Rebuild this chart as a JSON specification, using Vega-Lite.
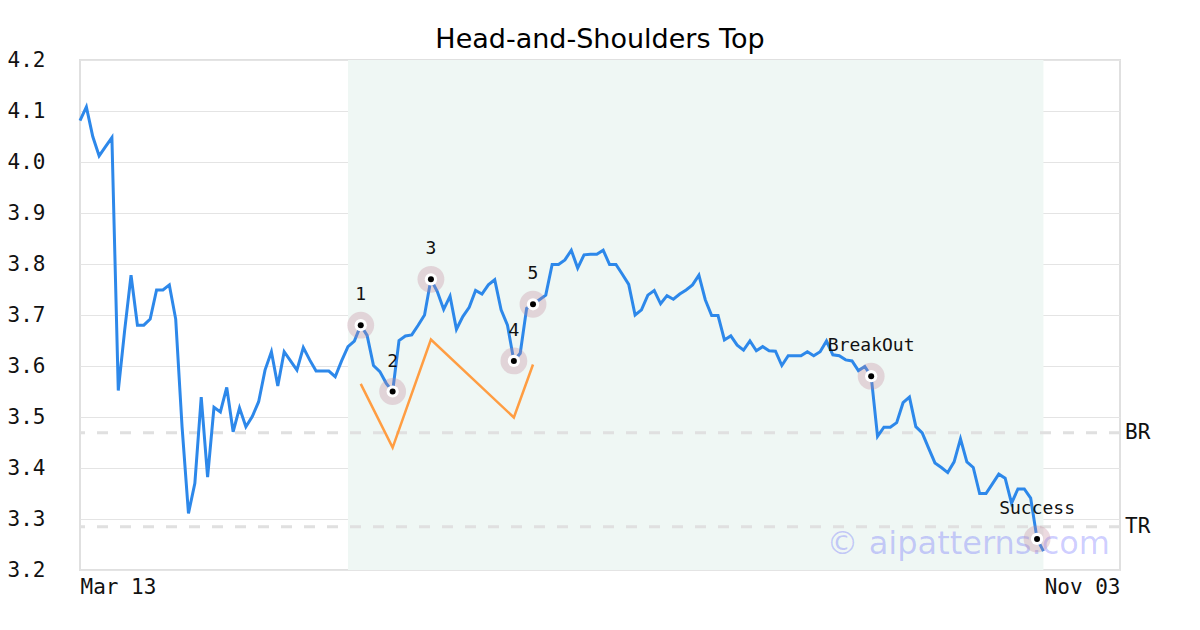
{
  "$schema": "https://vega.github.io/schema/vega-lite/v6.json",
  "width": 1040,
  "height": 510,
  "autosize": {"type": "none"},
  "padding": {"left": 80, "top": 60, "right": 80, "bottom": 60},
  "background": "white",
  "title": {"text": "Head-and-Shoulders Top", "font": "DejaVu Sans", "fontSize": 27, "fontWeight": "normal", "color": "#000000", "offset": -5},
  "config": {
    "view": {"stroke": "#e0e0e0", "strokeWidth": 2},
    "axis": {"domain": false, "ticks": false, "labelFont": "DejaVu Sans Mono", "labelFontSize": 21, "labelColor": "#111111", "gridColor": "#e4e4e4", "gridWidth": 1}
  },
  "datasets": {
    "price": [
      {"i":0,"v":4.081},{"i":1,"v":4.108},{"i":2,"v":4.050},{"i":3,"v":4.012},{"i":4,"v":4.030},{"i":5,"v":4.048},{"i":6,"v":3.552},{"i":7,"v":3.670},{"i":8,"v":3.778},{"i":9,"v":3.680},
      {"i":10,"v":3.680},{"i":11,"v":3.692},{"i":12,"v":3.749},{"i":13,"v":3.749},{"i":14,"v":3.759},{"i":15,"v":3.692},{"i":16,"v":3.480},{"i":17,"v":3.311},{"i":18,"v":3.370},{"i":19,"v":3.539},
      {"i":20,"v":3.382},{"i":21,"v":3.519},{"i":22,"v":3.510},{"i":23,"v":3.558},{"i":24,"v":3.471},{"i":25,"v":3.518},{"i":26,"v":3.481},{"i":27,"v":3.501},{"i":28,"v":3.530},{"i":29,"v":3.592},
      {"i":30,"v":3.628},{"i":31,"v":3.561},{"i":32,"v":3.628},{"i":33,"v":3.610},{"i":34,"v":3.592},{"i":35,"v":3.636},{"i":36,"v":3.612},{"i":37,"v":3.590},{"i":38,"v":3.590},{"i":39,"v":3.590},
      {"i":40,"v":3.579},{"i":41,"v":3.610},{"i":42,"v":3.638},{"i":43,"v":3.649},{"i":44,"v":3.680},{"i":45,"v":3.660},{"i":46,"v":3.601},{"i":47,"v":3.589},{"i":48,"v":3.566},{"i":49,"v":3.550},
      {"i":50,"v":3.650},{"i":51,"v":3.659},{"i":52,"v":3.661},{"i":53,"v":3.680},{"i":54,"v":3.700},{"i":55,"v":3.770},{"i":56,"v":3.746},{"i":57,"v":3.711},{"i":58,"v":3.737},{"i":59,"v":3.672},
      {"i":60,"v":3.697},{"i":61,"v":3.715},{"i":62,"v":3.748},{"i":63,"v":3.741},{"i":64,"v":3.759},{"i":65,"v":3.769},{"i":66,"v":3.710},{"i":67,"v":3.680},{"i":68,"v":3.610},{"i":69,"v":3.625},
      {"i":70,"v":3.713},{"i":71,"v":3.721},{"i":72,"v":3.730},{"i":73,"v":3.739},{"i":74,"v":3.799},{"i":75,"v":3.799},{"i":76,"v":3.808},{"i":77,"v":3.827},{"i":78,"v":3.792},{"i":79,"v":3.818},
      {"i":80,"v":3.819},{"i":81,"v":3.819},{"i":82,"v":3.827},{"i":83,"v":3.799},{"i":84,"v":3.799},{"i":85,"v":3.780},{"i":86,"v":3.760},{"i":87,"v":3.700},{"i":88,"v":3.710},{"i":89,"v":3.739},
      {"i":90,"v":3.748},{"i":91,"v":3.722},{"i":92,"v":3.738},{"i":93,"v":3.731},{"i":94,"v":3.741},{"i":95,"v":3.749},{"i":96,"v":3.759},{"i":97,"v":3.778},{"i":98,"v":3.730},{"i":99,"v":3.699},
      {"i":100,"v":3.699},{"i":101,"v":3.651},{"i":102,"v":3.659},{"i":103,"v":3.641},{"i":104,"v":3.631},{"i":105,"v":3.649},{"i":106,"v":3.630},{"i":107,"v":3.638},{"i":108,"v":3.630},{"i":109,"v":3.629},
      {"i":110,"v":3.601},{"i":111,"v":3.620},{"i":112,"v":3.620},{"i":113,"v":3.620},{"i":114,"v":3.628},{"i":115,"v":3.620},{"i":116,"v":3.628},{"i":117,"v":3.649},{"i":118,"v":3.622},{"i":119,"v":3.620},
      {"i":120,"v":3.612},{"i":121,"v":3.610},{"i":122,"v":3.591},{"i":123,"v":3.599},{"i":124,"v":3.580},{"i":125,"v":3.462},{"i":126,"v":3.480},{"i":127,"v":3.480},{"i":128,"v":3.489},{"i":129,"v":3.528},
      {"i":130,"v":3.539},{"i":131,"v":3.481},{"i":132,"v":3.469},{"i":133,"v":3.439},{"i":134,"v":3.410},{"i":135,"v":3.401},{"i":136,"v":3.391},{"i":137,"v":3.412},{"i":138,"v":3.457},{"i":139,"v":3.412},
      {"i":140,"v":3.401},{"i":141,"v":3.350},{"i":142,"v":3.350},{"i":143,"v":3.369},{"i":144,"v":3.388},{"i":145,"v":3.380},{"i":146,"v":3.331},{"i":147,"v":3.359},{"i":148,"v":3.359},{"i":149,"v":3.341},
      {"i":150,"v":3.261},{"i":151,"v":3.237}
    ],
    "pattern": [
      {"i":44,"v":3.565},{"i":49,"v":3.440},{"i":55,"v":3.652},{"i":68,"v":3.499},{"i":71,"v":3.603}
    ],
    "points": [
      {"i":44,"v":3.680,"label":"1"},{"i":49,"v":3.550,"label":"2"},{"i":55,"v":3.770,"label":"3"},{"i":68,"v":3.610,"label":"4"},{"i":71,"v":3.721,"label":"5"},
      {"i":124,"v":3.580,"label":"BreakOut"},{"i":150,"v":3.261,"label":"Success"}
    ],
    "shade": [{"start":42,"end":151}],
    "levels": [{"label":"BR","v":3.469},{"label":"TR","v":3.285}],
    "mark": [{"text":"© aipatterns.com"}]
  },
  "layer": [
    {
      "data": {"name": "shade"},
      "mark": {"type": "rect", "fill": "#eff7f4"},
      "encoding": {
        "x": {"field": "start", "type": "quantitative", "scale": {"domain": [0, 163], "nice": false, "zero": false}, "axis": {"title": null, "values": [0, 163], "labelExpr": "datum.value == 0 ? 'Mar 13' : 'Nov 03'", "labelFlush": true, "labelPadding": 6, "grid": false}},
        "x2": {"field": "end"}
      }
    },
    {
      "data": {"name": "levels"},
      "mark": {"type": "rule", "stroke": "#e0e0e0", "strokeWidth": 3, "strokeDash": [11, 12]},
      "encoding": {
        "y": {"field": "v", "type": "quantitative", "scale": {"domain": [3.2, 4.2], "nice": false, "zero": false}, "axis": {"title": null, "values": [3.2,3.3,3.4,3.5,3.6,3.7,3.8,3.9,4.0,4.1,4.2], "format": ".1f", "labelPadding": 35, "grid": true}}
      }
    },
    {
      "data": {"name": "levels"},
      "mark": {"type": "text", "align": "left", "baseline": "middle", "dx": 5, "font": "DejaVu Sans Mono", "fontSize": 21, "color": "#111111"},
      "encoding": {
        "x": {"value": "width"},
        "y": {"field": "v", "type": "quantitative", "axis": {"title": null}},
        "text": {"field": "label"}
      }
    },
    {
      "data": {"name": "pattern"},
      "mark": {"type": "line", "stroke": "#ff9d42", "strokeWidth": 2.5},
      "encoding": {
        "x": {"field": "i", "type": "quantitative", "axis": {"title": null}},
        "y": {"field": "v", "type": "quantitative", "axis": {"title": null}}
      }
    },
    {
      "data": {"name": "price"},
      "mark": {"type": "line", "stroke": "#2d88ea", "strokeWidth": 3},
      "encoding": {
        "x": {"field": "i", "type": "quantitative", "axis": {"title": null}},
        "y": {"field": "v", "type": "quantitative", "axis": {"title": null}}
      }
    },
    {
      "data": {"name": "mark"},
      "mark": {"type": "text", "align": "right", "baseline": "alphabetic", "dx": -10, "dy": -16, "font": "DejaVu Sans", "fontSize": 32, "fill": "#0000ff", "fillOpacity": 0.2},
      "encoding": {
        "x": {"value": "width"},
        "y": {"value": "height"},
        "text": {"field": "text"}
      }
    },
    {
      "data": {"name": "points"},
      "mark": {"type": "circle", "size": 720, "color": "#c08597", "opacity": 0.3},
      "encoding": {
        "x": {"field": "i", "type": "quantitative", "axis": {"title": null}},
        "y": {"field": "v", "type": "quantitative", "axis": {"title": null}}
      }
    },
    {
      "data": {"name": "points"},
      "mark": {"type": "circle", "size": 150, "color": "#ffffff", "opacity": 1},
      "encoding": {
        "x": {"field": "i", "type": "quantitative", "axis": {"title": null}},
        "y": {"field": "v", "type": "quantitative", "axis": {"title": null}}
      }
    },
    {
      "data": {"name": "points"},
      "mark": {"type": "circle", "size": 36, "color": "#000000", "opacity": 1},
      "encoding": {
        "x": {"field": "i", "type": "quantitative", "axis": {"title": null}},
        "y": {"field": "v", "type": "quantitative", "axis": {"title": null}}
      }
    },
    {
      "data": {"name": "points"},
      "mark": {"type": "text", "align": "center", "baseline": "middle", "dy": -30, "font": "DejaVu Sans Mono", "fontSize": 18, "color": "#111111"},
      "encoding": {
        "x": {"field": "i", "type": "quantitative", "axis": {"title": null}},
        "y": {"field": "v", "type": "quantitative", "axis": {"title": null}},
        "text": {"field": "label"}
      }
    }
  ]
}
